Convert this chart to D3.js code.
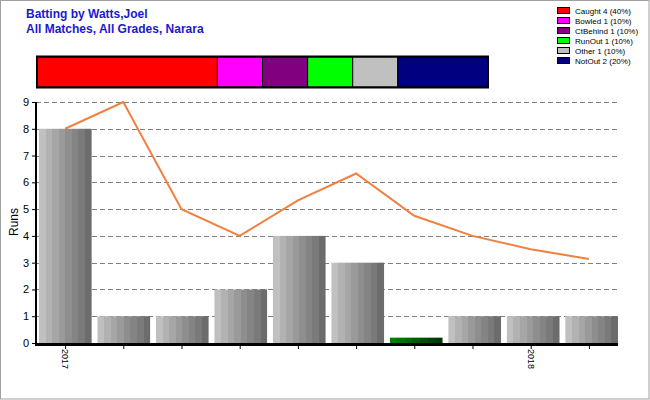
<!DOCTYPE html>
<html><head><meta charset="utf-8">
<script src="https://cdn.jsdelivr.net/npm/d3@7"></script>
<style>body{margin:0;background:#fff}svg{display:block;font-family:Arial,"Liberation Sans",sans-serif}</style>
</head><body>
<script>
const innings = ["1","2","3","4","5","6","7","8","9","10"];
const runs = [8,1,1,2,4,3,0.2,1,1,1];
const barKind = ["out","out","out","out","out","out","zero","out","out","out"];
const average = [8,9,5,4,5.33,6.33,4.75,4.0,3.5,3.14];
const xLabels = {"1":"2017","9":"2018"};
const yTicks = [0,1,2,3,4,5,6,7,8,9];
const dismissals = ["Caught","Bowled","CtBehind","RunOut","Other","NotOut"];
const dismissalCounts = [4,1,1,1,1,2];
const dismissalPct = [40,10,10,10,10,20];
const dismissalColors = ["#ff0000","#ff00ff","#800080","#00ff00","#c0c0c0","#000080"];

const W=650,H=400;
const svg=d3.select("body").append("svg").attr("width",W).attr("height",H);
const defs=svg.append("defs");
function stripes(id, cols){
  const g=defs.append("linearGradient").attr("id",id).attr("x1","0").attr("x2","1").attr("y1","0").attr("y2","0");
  const n=cols.length;
  cols.forEach((c,i)=>{
    g.append("stop").attr("offset",i/n).attr("stop-color",c);
    g.append("stop").attr("offset",(i+1)/n).attr("stop-color",c);
  });
}
stripes("gGray",["#c0c0c0","#b2b2b2","#a6a6a6","#9a9a9a","#8e8e8e","#848484","#7a7a7a","#6c6c6c"]);
stripes("gGreen",["#008000","#007400","#006800","#005c00","#005000","#004400","#003a00"]);

svg.append("rect").attr("x",0.5).attr("y",0.5).attr("width",W-1.5).attr("height",H-1.5).attr("fill","#fff").attr("stroke","#a0a0a0");

svg.append("text").attr("x",26).attr("y",18).attr("fill","#1a1acc").attr("font-weight","bold").attr("font-size",12).text("Batting by Watts,Joel");
svg.append("text").attr("x",26).attr("y",33).attr("fill","#1a1acc").attr("font-weight","bold").attr("font-size",12).text("All Matches, All Grades, Narara");

// stacked dismissal bar
const total=d3.sum(dismissalCounts);
const sx=d3.scaleLinear().domain([0,total]).range([37,488]);
let cum=0;
const segs=dismissalCounts.map((c,i)=>{const s={x0:cum,x1:cum+c,color:dismissalColors[i]};cum+=c;return s;});
svg.selectAll(".seg").data(segs).join("rect").attr("x",d=>sx(d.x0)).attr("y",57).attr("width",d=>sx(d.x1)-sx(d.x0)).attr("height",30)
  .attr("fill",d=>d.color).attr("stroke","#000").attr("stroke-width",1);
svg.append("rect").attr("x",37).attr("y",56.5).attr("width",451).attr("height",31).attr("fill","none").attr("stroke","#000").attr("stroke-width",2);

// legend
const lg=svg.append("g");
dismissals.forEach((d,i)=>{
  const y=7+i*10;
  lg.append("rect").attr("x",557.5).attr("y",y+0.5).attr("width",12).attr("height",6).attr("fill",dismissalColors[i]).attr("stroke","#000");
  lg.append("text").attr("x",575).attr("y",y+7).attr("font-size",8).attr("fill","#000").text(`${d} ${dismissalCounts[i]} (${dismissalPct[i]}%)`);
});

// plot
const x=d3.scaleBand().domain(innings).range([39,618]).paddingInner(0.1).paddingOuter(0);
const xc=d3.scalePoint().domain(innings).range([36,618]).padding(0.5);
const y=d3.scaleLinear().domain([0,9]).range([343,102]);

svg.append("g").selectAll("line").data(yTicks.filter(t=>t>0)).join("line")
  .attr("x1",36).attr("x2",618).attr("y1",d=>Math.round(y(d))+0.5).attr("y2",d=>Math.round(y(d))+0.5)
  .attr("stroke","#808080").attr("stroke-dasharray","5,3");

svg.append("g").selectAll("rect").data(runs).join("rect")
  .attr("x",(d,i)=>x(innings[i])).attr("width",x.bandwidth())
  .attr("y",d=>y(d)).attr("height",d=>y(0)-y(d))
  .attr("fill",(d,i)=>barKind[i]==="zero"?"url(#gGreen)":"url(#gGray)");

const line=d3.line().x((d,i)=>xc(innings[i])).y(d=>y(d));
svg.append("path").datum(average).attr("d",line).attr("fill","none").attr("stroke","#f08040").attr("stroke-width",2);

// axes
const ya=svg.append("g").attr("transform","translate(36,0)").call(d3.axisLeft(y).tickValues(yTicks).tickSize(4).tickFormat(d3.format("d")));
ya.select(".domain").remove();
ya.selectAll("text").attr("font-size",11).attr("fill","#000").attr("font-family","Arial, Liberation Sans, sans-serif");
svg.append("line").attr("x1",36).attr("x2",36).attr("y1",102).attr("y2",344).attr("stroke","#000").attr("stroke-width",2);

const xa=svg.append("g").attr("transform","translate(0,343)").call(d3.axisBottom(xc).tickSize(6).tickFormat(d=>xLabels[d]||""));
xa.select(".domain").remove();
xa.selectAll("text").attr("font-size",9).attr("fill","#000").attr("transform","rotate(90)").attr("text-anchor","start")
  .attr("x",6).attr("y",0).attr("dy","0.35em").attr("font-family","Arial, Liberation Sans, sans-serif");
svg.append("line").attr("x1",35).attr("x2",618).attr("y1",344.5).attr("y2",344.5).attr("stroke","#000").attr("stroke-width",3);

svg.append("text").attr("transform","translate(18,222) rotate(-90)").attr("text-anchor","middle").attr("font-size",12).text("Runs");
</script>
</body></html>
